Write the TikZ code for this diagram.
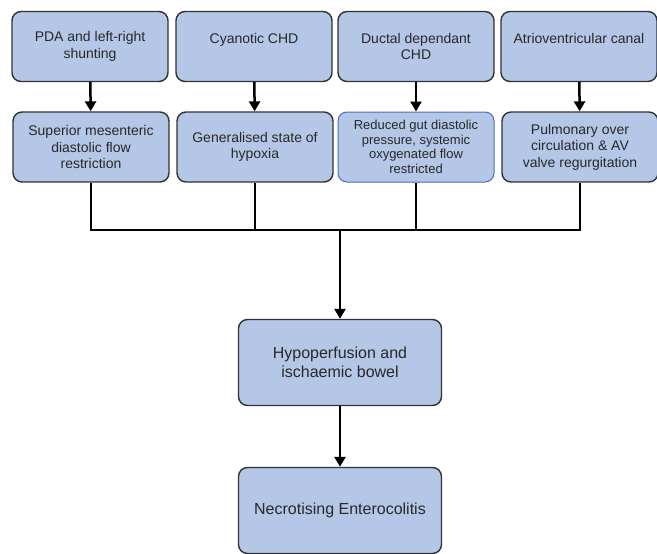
\documentclass[tikz,border=0pt]{standalone}
\usepackage{fontspec}
\setmainfont{Liberation Sans}
\usetikzlibrary{arrows.meta}
\definecolor{boxfill}{RGB}{180,199,231}
\definecolor{boxline}{RGB}{50,50,50}
\definecolor{blueline}{RGB}{70,110,180}
\definecolor{textgray}{RGB}{40,40,40}

\begin{document}
\begin{tikzpicture}[x=1pt,y=-1pt]
\tikzstyle{boxstyle}=[draw=boxline, fill=boxfill, rounded corners=9pt, line width=1.4pt, align=center, text=textgray, inner sep=0pt, font=\fontsize{14}{16.5}\selectfont, minimum width=156pt, minimum height=70pt]
\tikzstyle{bigbox}=[boxstyle, font=\fontsize{16}{19.5}\selectfont, minimum width=203pt, minimum height=86pt]
\tikzstyle{conn}=[line width=2.5pt, black]
    \useasboundingbox (0,0) rectangle (657,554);
    % causes
    \node[boxstyle] (pda) at (90,46.5) {PDA and left-right\\shunting};
    \node[boxstyle] (cya) at (254,46.5) {Cyanotic CHD\\\mbox{}};
    \node[boxstyle] (duc) at (416,46.5) {Ductal dependant\\CHD};
    \node[boxstyle] (avc) at (579,46.5) {Atrioventricular canal\\\mbox{}};
    % mechanisms
    \node[boxstyle] (smf) at (91,147) {Superior mesenteric\\diastolic flow\\restriction};
    \node[boxstyle] (hyx) at (255,147) {Generalised state of\\hypoxia};
    \node[boxstyle, draw=blueline, line width=1pt, font=\fontsize{13}{14.7}\selectfont] (rgd) at (416,147) {Reduced gut diastolic\\pressure, systemic\\oxygenated flow\\restricted};
    \node[boxstyle] (pav) at (580,147) {Pulmonary over\\circulation \& AV\\valve regurgitation};
    % outcome
    \node[bigbox] (hyp) at (340,362.5) {Hypoperfusion and\\ischaemic bowel};
    \node[bigbox] (nec) at (340,510.5) {Necrotising Enterocolitis};
    \coordinate (join) at (340,230);
    \draw [conn, -{Triangle[length=10pt,width=11pt]}] (pda) -- (smf);
    \draw [conn, -{Triangle[length=10pt,width=11pt]}] (cya) -- (hyx);
    \draw [conn, -{Triangle[length=10pt,width=11pt]}] (duc) -- (rgd);
    \draw [conn, -{Triangle[length=10pt,width=11pt]}] (avc) -- (pav);
    \draw [conn] (smf.south) |- (join) -| (pav.south);
    \draw [conn] (hyx.south) -- (hyx.south |- join);
    \draw [conn] (rgd.south) -- (rgd.south |- join);
    \draw [conn, -{Triangle[length=10pt,width=11pt]}] (join) -- (hyp);
    \draw [conn, -{Triangle[length=10pt,width=11pt]}] (hyp) -- (nec);
\end{tikzpicture}
\end{document}
